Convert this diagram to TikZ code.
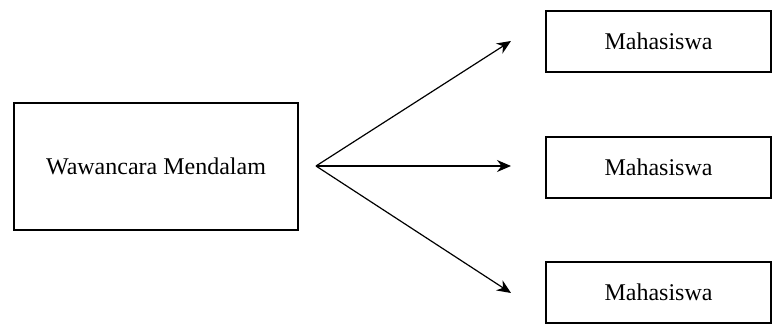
\documentclass[tikz,border=0pt]{standalone}
\usepackage{fontspec}
\setmainfont{Liberation Serif}
\usetikzlibrary{arrows.meta}

\begin{document}
\begin{tikzpicture}[x=0.5pt,y=-0.5pt,
    kotak/.style={draw,line width=0.65pt,inner sep=0pt,font=\fontsize{12}{14}\selectfont},
    panah/.style={line width=0.6pt,-{Stealth[length=7pt,width=6pt]}}]
    \useasboundingbox (0,0) rectangle (783,325);

    % Sumber
    \node[kotak,minimum width=142pt,minimum height=63.5pt] (wawancara) at (156,166.5) {Wawancara Mendalam};
    \coordinate (asal) at (316,166);

    % Informan
    \node[kotak,minimum width=112.5pt,minimum height=30.5pt] (mhs1) at (658.5,41.5) {Mahasiswa};
    \node[kotak,minimum width=112.5pt,minimum height=30.5pt] (mhs2) at (658.5,167.5) {Mahasiswa};
    \node[kotak,minimum width=112.5pt,minimum height=30.5pt] (mhs3) at (658.5,292.5) {Mahasiswa};

    \coordinate (ujung1) at (511,41);
    \coordinate (ujung2) at (511,166);
    \coordinate (ujung3) at (511,293);

    % Panah
    \draw[panah] (asal) -- (ujung1);
    \draw[panah] (asal) -- (ujung2);
    \draw[panah] (asal) -- (ujung3);
\end{tikzpicture}
\end{document}
